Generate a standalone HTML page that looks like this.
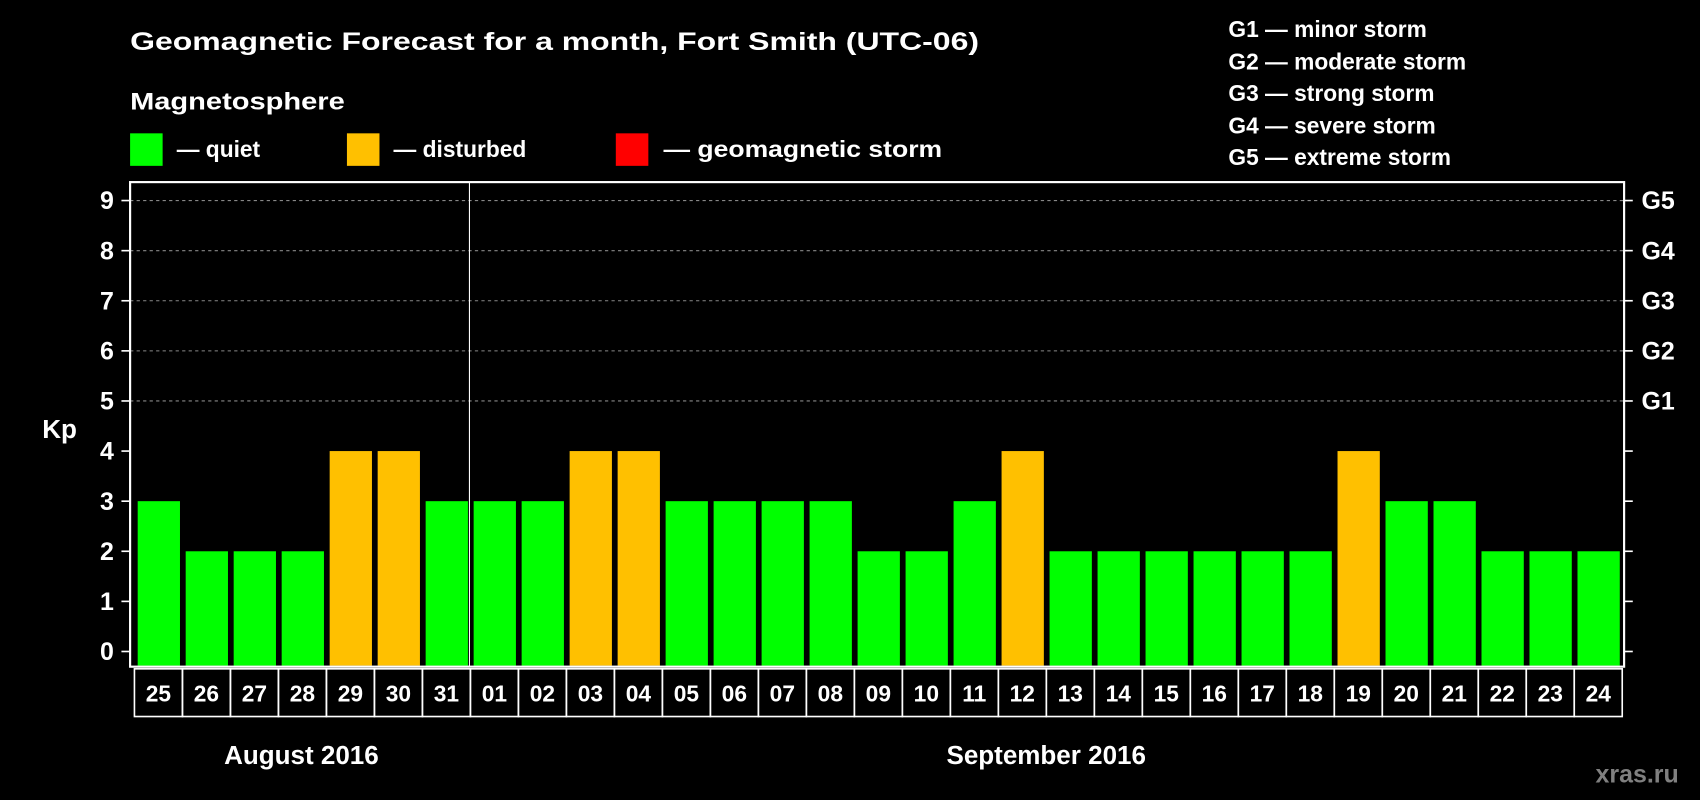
<!DOCTYPE html>
<html><head><meta charset="utf-8"><style>
html,body{margin:0;padding:0;background:#000;width:1700px;height:800px;overflow:hidden}
svg{display:block}
text{font-family:"Liberation Sans",Arial,sans-serif;font-weight:bold;fill:#fff}
</style></head><body>
<svg id="chart" width="1700" height="800" viewBox="0 0 1568 738" preserveAspectRatio="none" xmlns="http://www.w3.org/2000/svg">
<rect x="0" y="0" width="1568" height="738" fill="#000"/>
<text x="120" y="46" font-size="23" textLength="783" lengthAdjust="spacingAndGlyphs">Geomagnetic Forecast for a month, Fort Smith (UTC-06)</text>
<text x="120" y="101" font-size="22" textLength="198" lengthAdjust="spacingAndGlyphs">Magnetosphere</text>
<rect x="120" y="123" width="30" height="30" fill="#00ff00"/>
<text x="163" y="145" font-size="21">— quiet</text>
<rect x="320" y="123" width="30" height="30" fill="#ffc000"/>
<text x="363" y="145" font-size="21">— disturbed</text>
<rect x="568" y="123" width="30" height="30" fill="#ff0000"/>
<text x="612" y="145" font-size="21" textLength="257" lengthAdjust="spacingAndGlyphs">— geomagnetic storm</text>
<g font-size="21">
<text x="1133" y="34">G1 — minor storm</text>
<text x="1133" y="64">G2 — moderate storm</text>
<text x="1133" y="93">G3 — strong storm</text>
<text x="1133" y="123">G4 — severe storm</text>
<text x="1133" y="152">G5 — extreme storm</text>
</g>
<text x="39" y="404" font-size="24">Kp</text>
<g id="plot"></g>
<text x="278" y="705" font-size="24" text-anchor="middle">August 2016</text>
<text x="965" y="705" font-size="24" text-anchor="middle">September 2016</text>
<text x="1510" y="722" font-size="23" text-anchor="middle" style="fill:#808080">xras.ru</text>
</svg>
<script>
const days = ["25","26","27","28","29","30","31","01","02","03","04","05","06","07","08","09","10","11","12","13","14","15","16","17","18","19","20","21","22","23","24"];
const kpValues = [3,2,2,2,4,4,3,3,3,4,4,3,3,3,3,2,2,3,4,2,2,2,2,2,2,4,3,3,2,2,2];
const yTicks = [0,1,2,3,4,5,6,7,8,9];
const gLabels = ["G1","G2","G3","G4","G5"];
const gLevels = [5,6,7,8,9];

const NS = "http://www.w3.org/2000/svg";
const plot = document.getElementById("plot");
const L = 120, R = 1498, T = 168, B = 615;
const y0 = 601, yPerUnit = (601 - 185) / 9;
const firstX = 127, pitch = (1455 - 127) / 30, barW = 39;
function yScale(v){ return y0 - v * yPerUnit; }
function xScale(i){ return firstX + i * pitch; }
function mk(tag, attrs){ const e = document.createElementNS(NS, tag); for (const k in attrs) e.setAttribute(k, attrs[k]); plot.appendChild(e); return e; }
function colorFor(v){ return v >= 5 ? "#ff0000" : (v >= 4 ? "#ffc000" : "#00ff00"); }

// gridlines
gLevels.forEach(function(v){
  const g = mk("line", {x1: L, x2: R, y1: yScale(v), y2: yScale(v), stroke: "#888", "stroke-width": 1, "stroke-dasharray": "3,3"});
  
  
});
// y ticks & labels
yTicks.forEach(function(v){
  const y = yScale(v);
  const t1 = mk("line", {x1: 112, x2: L, y1: y, y2: y, stroke: "#fff", "stroke-width": 1.5});
  
  
  const t2 = mk("line", {x1: R, x2: R + 8, y1: y, y2: y, stroke: "#fff", "stroke-width": 1.5});
  
  
  const lb = mk("text", {x: 105, y: y + 8, "font-size": 23, "text-anchor": "end"});
  lb.textContent = String(v);
  
  
});
gLabels.forEach(function(g, i){
  const lb = mk("text", {x: 1514, y: yScale(gLevels[i]) + 8, "font-size": 23});
  lb.textContent = g;
  
  
});
// bars
kpValues.forEach(function(v, i){
  const b = mk("rect", {x: xScale(i), y: yScale(v), width: barW, height: B - 1 - yScale(v), fill: colorFor(v)});
  
  
});
// frame
const fr = mk("rect", {x: L, y: T, width: R - L, height: B - T, fill: "none", stroke: "#fff", "stroke-width": 2});


const sep = mk("line", {x1: 433, x2: 433, y1: T, y2: B, stroke: "#fff", "stroke-width": 1});


// date boxes
days.forEach(function(d, i){
  const x = xScale(i) - 3;
  const bx = mk("rect", {x: x, y: 617, width: pitch, height: 44, fill: "none", stroke: "#fff", "stroke-width": 1.5});
  
  
  const t = mk("text", {x: x + pitch / 2, y: 647, "font-size": 21, "text-anchor": "middle"});
  t.textContent = d;
  
  
});
</script>
</body></html>
